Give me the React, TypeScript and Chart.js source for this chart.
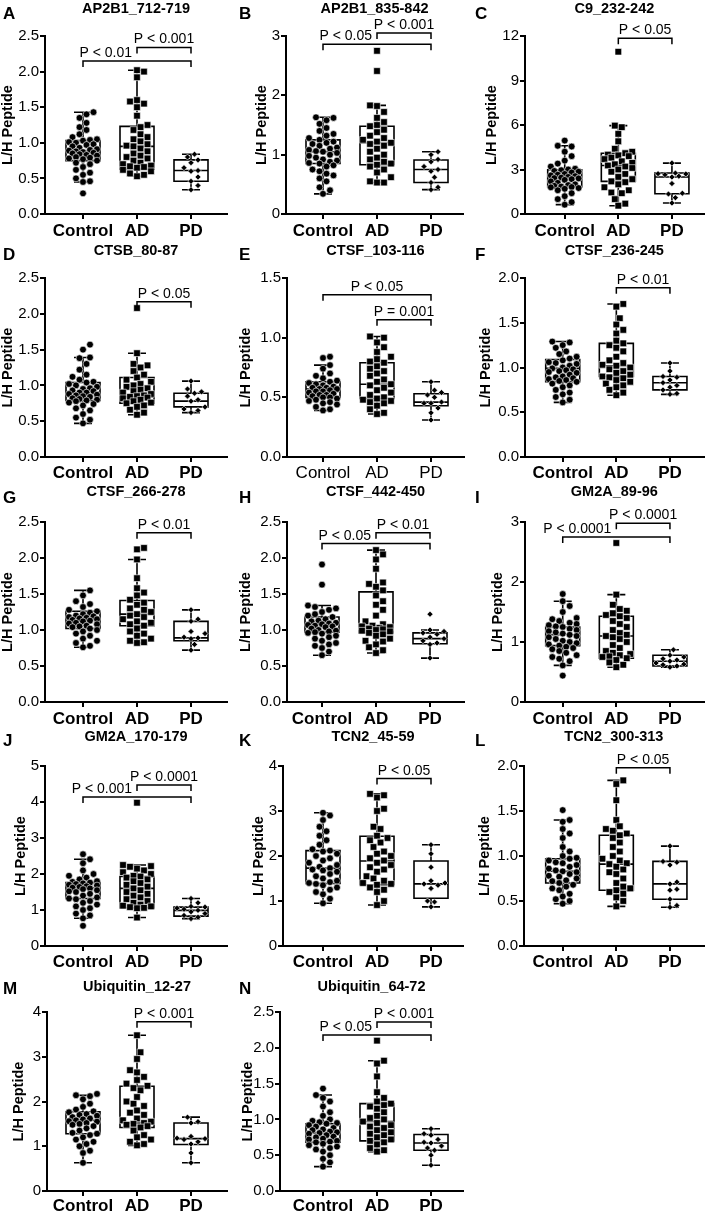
import React, { useEffect, useRef } from 'react';
import { Chart, registerables } from 'chart.js';

Chart.register(...registerables);

const FONT = '"Liberation Sans", Arial, Helvetica, sans-serif';
Chart.defaults.font.family = FONT;

const GROUPS = ['Control', 'AD', 'PD'];

// ---------- data ----------
const A_CONTROL = [1.43, 1.40, 1.35, 1.28, 1.22, 1.18, 1.12, 1.08, 1.05, 1.04, 1.03, 1.01, 1.00, 0.98, 0.97, 0.95, 0.93, 0.91, 0.90, 0.89, 0.88, 0.87, 0.86, 0.85, 0.84, 0.83, 0.82, 0.80, 0.79, 0.78, 0.77, 0.75, 0.72, 0.70, 0.66, 0.62, 0.58, 0.55, 0.50, 0.46, 0.45, 0.29];
const A_AD = [2.02, 2.00, 1.92, 1.60, 1.58, 1.55, 1.50, 1.38, 1.25, 1.22, 1.18, 1.12, 1.08, 1.05, 1.02, 0.98, 0.96, 0.95, 0.92, 0.88, 0.85, 0.82, 0.80, 0.78, 0.75, 0.72, 0.70, 0.68, 0.67, 0.66, 0.65, 0.62, 0.60, 0.57, 0.55, 0.53];
const A_PD = [0.84, 0.80, 0.76, 0.72, 0.65, 0.61, 0.60, 0.52, 0.46, 0.40, 0.34];
const A_BOX = [[0.45, 0.75, 0.88, 1.03, 1.43], [0.53, 0.63, 0.95, 1.23, 2.02], [0.34, 0.46, 0.61, 0.76, 0.84]];
const A_SIG = [[1, 3, 2.15, 'P < 0.01'], [2, 3, 2.34, 'P < 0.001']];

const B_CONTROL = [1.63, 1.62, 1.58, 1.52, 1.45, 1.40, 1.35, 1.32, 1.28, 1.25, 1.22, 1.20, 1.18, 1.15, 1.12, 1.10, 1.08, 1.06, 1.05, 1.03, 1.00, 0.98, 0.95, 0.92, 0.90, 0.88, 0.86, 0.85, 0.82, 0.80, 0.75, 0.72, 0.68, 0.65, 0.60, 0.55, 0.45, 0.40, 0.34];
const B_AD = [2.75, 2.41, 1.83, 1.82, 1.72, 1.62, 1.55, 1.50, 1.48, 1.42, 1.38, 1.32, 1.28, 1.25, 1.22, 1.20, 1.18, 1.15, 1.10, 1.05, 1.00, 0.95, 0.92, 0.88, 0.85, 0.83, 0.80, 0.75, 0.70, 0.62, 0.55, 0.53, 0.53];
const B_PD = [1.05, 1.00, 0.92, 0.88, 0.80, 0.75, 0.72, 0.62, 0.53, 0.45, 0.41];
const B_BOX = [[0.34, 0.85, 1.05, 1.25, 1.63], [0.53, 0.83, 1.20, 1.48, 1.83], [0.41, 0.53, 0.75, 0.91, 1.05]];
const B_SIG = [[1, 3, 2.86, 'P < 0.05'], [2, 3, 3.05, 'P < 0.001']];

const C_CONTROL = [4.95, 4.60, 4.55, 4.20, 3.90, 3.60, 3.40, 3.20, 3.05, 3.00, 2.95, 2.90, 2.85, 2.80, 2.70, 2.65, 2.60, 2.55, 2.50, 2.45, 2.42, 2.40, 2.35, 2.30, 2.20, 2.10, 2.00, 1.95, 1.90, 1.85, 1.82, 1.80, 1.75, 1.70, 1.60, 1.40, 1.20, 1.00, 0.80, 0.63];
const C_AD = [10.94, 5.96, 5.85, 5.40, 4.90, 4.40, 4.20, 4.10, 4.00, 3.95, 3.90, 3.80, 3.70, 3.55, 3.45, 3.35, 3.27, 3.20, 3.10, 3.00, 2.85, 2.70, 2.50, 2.35, 2.20, 2.15, 2.00, 1.80, 1.60, 1.45, 1.40, 1.00, 0.70, 0.56];
const C_PD = [3.43, 2.76, 2.72, 2.70, 2.65, 2.55, 2.49, 2.05, 1.40, 1.35, 1.10, 0.74];
const C_BOX = [[0.63, 1.82, 2.42, 2.98, 4.60], [0.56, 2.20, 3.27, 4.10, 5.96], [0.74, 1.37, 2.49, 2.76, 3.43]];
const C_SIG = [[2, 3, 11.84, 'P < 0.05']];

const D_CONTROL = [1.57, 1.50, 1.39, 1.38, 1.30, 1.22, 1.15, 1.12, 1.08, 1.05, 1.04, 1.02, 1.00, 0.98, 0.96, 0.95, 0.93, 0.92, 0.90, 0.90, 0.88, 0.87, 0.86, 0.85, 0.84, 0.82, 0.81, 0.80, 0.79, 0.78, 0.76, 0.74, 0.72, 0.68, 0.65, 0.60, 0.55, 0.52, 0.47];
const D_AD = [2.08, 1.45, 1.30, 1.28, 1.25, 1.20, 1.15, 1.11, 1.08, 1.05, 1.02, 1.00, 0.98, 0.96, 0.94, 0.92, 0.90, 0.88, 0.86, 0.85, 0.84, 0.83, 0.82, 0.80, 0.78, 0.76, 0.75, 0.72, 0.70, 0.66, 0.62, 0.59];
const D_PD = [1.06, 0.95, 0.91, 0.89, 0.85, 0.80, 0.78, 0.70, 0.67, 0.65, 0.62];
const D_BOX = [[0.47, 0.79, 0.90, 1.04, 1.39], [0.59, 0.75, 0.84, 1.11, 1.45], [0.62, 0.70, 0.78, 0.89, 1.06]];
const D_SIG = [[2, 3, 2.17, 'P < 0.05']];

const E_CONTROL = [0.84, 0.83, 0.77, 0.74, 0.70, 0.68, 0.66, 0.64, 0.63, 0.62, 0.61, 0.60, 0.59, 0.58, 0.58, 0.57, 0.57, 0.56, 0.55, 0.55, 0.54, 0.53, 0.52, 0.52, 0.51, 0.50, 0.50, 0.49, 0.48, 0.47, 0.46, 0.45, 0.44, 0.42, 0.40, 0.39];
const E_AD = [1.01, 1.00, 0.96, 0.92, 0.88, 0.84, 0.82, 0.80, 0.79, 0.76, 0.74, 0.72, 0.70, 0.68, 0.65, 0.63, 0.61, 0.60, 0.58, 0.56, 0.54, 0.52, 0.50, 0.49, 0.48, 0.47, 0.46, 0.45, 0.43, 0.40, 0.37, 0.36];
const E_PD = [0.63, 0.56, 0.54, 0.52, 0.50, 0.46, 0.45, 0.45, 0.41, 0.37, 0.31];
const E_BOX = [[0.39, 0.50, 0.57, 0.63, 0.77], [0.36, 0.49, 0.61, 0.79, 1.01], [0.31, 0.43, 0.46, 0.53, 0.63]];
const E_SIG = [[1, 3, 1.36, 'P < 0.05'], [2, 3, 1.15, 'P = 0.001']];

const F_CONTROL = [1.29, 1.28, 1.25, 1.22, 1.18, 1.15, 1.12, 1.10, 1.08, 1.06, 1.05, 1.04, 1.02, 1.00, 0.99, 0.98, 0.97, 0.96, 0.95, 0.94, 0.92, 0.90, 0.89, 0.88, 0.87, 0.86, 0.85, 0.84, 0.82, 0.80, 0.78, 0.75, 0.72, 0.70, 0.67, 0.64, 0.61];
const F_AD = [1.71, 1.68, 1.55, 1.48, 1.42, 1.38, 1.30, 1.27, 1.25, 1.22, 1.18, 1.12, 1.08, 1.05, 1.03, 1.02, 1.00, 0.98, 0.96, 0.94, 0.92, 0.90, 0.89, 0.88, 0.86, 0.84, 0.82, 0.80, 0.78, 0.75, 0.72, 0.69];
const F_PD = [1.05, 0.96, 0.90, 0.89, 0.86, 0.83, 0.80, 0.78, 0.75, 0.71, 0.70];
const F_BOX = [[0.61, 0.84, 0.99, 1.09, 1.29], [0.69, 0.90, 1.02, 1.27, 1.71], [0.70, 0.75, 0.83, 0.90, 1.05]];
const F_SIG = [[2, 3, 1.89, 'P < 0.01']];

const G_CONTROL = [1.55, 1.48, 1.40, 1.36, 1.32, 1.28, 1.26, 1.24, 1.22, 1.20, 1.19, 1.18, 1.17, 1.16, 1.15, 1.14, 1.13, 1.12, 1.10, 1.09, 1.08, 1.06, 1.05, 1.04, 1.02, 1.00, 0.98, 0.95, 0.92, 0.88, 0.85, 0.82, 0.78, 0.76];
const G_AD = [2.14, 2.12, 1.98, 1.72, 1.58, 1.52, 1.48, 1.42, 1.38, 1.35, 1.30, 1.28, 1.25, 1.22, 1.20, 1.18, 1.15, 1.12, 1.10, 1.08, 1.06, 1.02, 0.98, 0.95, 0.92, 0.88, 0.85, 0.83, 0.82];
const G_PD = [1.28, 1.15, 1.12, 0.98, 0.95, 0.90, 0.89, 0.88, 0.80, 0.72];
const G_BOX = [[0.76, 1.02, 1.15, 1.26, 1.55], [0.82, 1.06, 1.22, 1.41, 1.98], [0.72, 0.85, 0.89, 1.12, 1.28]];
const G_SIG = [[2, 3, 2.35, 'P < 0.01']];

const H_CONTROL = [1.91, 1.63, 1.34, 1.32, 1.30, 1.28, 1.25, 1.22, 1.20, 1.18, 1.15, 1.13, 1.12, 1.10, 1.09, 1.08, 1.07, 1.06, 1.05, 1.04, 1.02, 1.00, 0.99, 0.98, 0.97, 0.96, 0.95, 0.92, 0.90, 0.88, 0.85, 0.82, 0.80, 0.78, 0.75, 0.70, 0.65];
const H_AD = [2.11, 2.05, 1.98, 1.85, 1.66, 1.64, 1.60, 1.55, 1.48, 1.40, 1.35, 1.28, 1.20, 1.12, 1.08, 1.06, 1.05, 1.04, 1.03, 1.02, 1.01, 1.00, 0.99, 0.98, 0.96, 0.94, 0.92, 0.88, 0.85, 0.84, 0.80, 0.76, 0.72, 0.68];
const H_PD = [1.22, 1.00, 0.98, 0.96, 0.94, 0.90, 0.88, 0.85, 0.82, 0.80, 0.61];
const H_BOX = [[0.65, 0.97, 1.08, 1.18, 1.34], [0.68, 0.96, 1.05, 1.53, 2.11], [0.61, 0.81, 0.88, 0.96, 1.00]];
const H_SIG = [[1, 3, 2.20, 'P < 0.05'], [2, 3, 2.35, 'P < 0.01']];

const I_CONTROL = [1.80, 1.68, 1.60, 1.50, 1.40, 1.38, 1.35, 1.32, 1.30, 1.28, 1.26, 1.25, 1.22, 1.20, 1.18, 1.16, 1.14, 1.12, 1.10, 1.08, 1.05, 1.02, 1.00, 0.98, 0.96, 0.94, 0.92, 0.90, 0.88, 0.85, 0.82, 0.78, 0.75, 0.72, 0.68, 0.61, 0.44];
const I_AD = [2.65, 1.79, 1.62, 1.55, 1.52, 1.48, 1.45, 1.43, 1.40, 1.35, 1.30, 1.25, 1.20, 1.15, 1.12, 1.10, 1.08, 1.05, 1.00, 0.95, 0.90, 0.85, 0.82, 0.80, 0.78, 0.76, 0.75, 0.73, 0.70, 0.66, 0.62, 0.58];
const I_PD = [0.87, 0.78, 0.75, 0.72, 0.70, 0.68, 0.65, 0.63, 0.62, 0.60, 0.58];
const I_BOX = [[0.61, 0.94, 1.12, 1.25, 1.68], [0.58, 0.73, 1.10, 1.43, 1.79], [0.58, 0.60, 0.68, 0.78, 0.87]];
const I_SIG = [[1, 3, 2.75, 'P < 0.0001'], [2, 3, 2.98, 'P < 0.0001']];

const J_CONTROL = [2.55, 2.41, 2.30, 2.10, 2.00, 1.95, 1.90, 1.85, 1.80, 1.78, 1.76, 1.74, 1.72, 1.70, 1.68, 1.66, 1.64, 1.62, 1.60, 1.58, 1.55, 1.52, 1.50, 1.45, 1.40, 1.35, 1.32, 1.30, 1.25, 1.20, 1.15, 1.10, 1.05, 1.00, 0.90, 0.85, 0.77, 0.56];
const J_AD = [3.98, 2.25, 2.22, 2.20, 2.15, 2.10, 2.05, 2.00, 1.95, 1.93, 1.90, 1.85, 1.80, 1.75, 1.70, 1.65, 1.60, 1.55, 1.50, 1.45, 1.40, 1.35, 1.30, 1.25, 1.20, 1.15, 1.12, 1.10, 1.08, 1.06, 1.05, 0.79];
const J_PD = [1.32, 1.20, 1.10, 1.08, 1.05, 1.02, 0.99, 0.95, 0.90, 0.85, 0.80, 0.76];
const J_BOX = [[0.77, 1.32, 1.62, 1.76, 2.41], [0.79, 1.06, 1.60, 1.93, 2.25], [0.76, 0.83, 0.99, 1.08, 1.32]];
const J_SIG = [[1, 3, 4.14, 'P < 0.001'], [2, 3, 4.47, 'P < 0.0001']];

const K_CONTROL = [2.96, 2.90, 2.80, 2.65, 2.55, 2.45, 2.35, 2.25, 2.15, 2.12, 2.10, 2.05, 2.00, 1.95, 1.90, 1.85, 1.80, 1.76, 1.73, 1.70, 1.68, 1.65, 1.60, 1.55, 1.50, 1.45, 1.42, 1.40, 1.38, 1.35, 1.30, 1.25, 1.20, 1.15, 1.05, 0.95];
const K_AD = [3.38, 3.35, 3.30, 3.05, 3.00, 2.65, 2.60, 2.45, 2.40, 2.35, 2.30, 2.20, 2.10, 2.05, 2.00, 1.95, 1.90, 1.85, 1.80, 1.75, 1.70, 1.65, 1.55, 1.50, 1.45, 1.40, 1.38, 1.36, 1.30, 1.25, 1.20, 1.00, 0.91];
const K_PD = [2.25, 2.05, 1.75, 1.45, 1.40, 1.38, 1.35, 1.28, 1.00, 0.98, 0.87];
const K_BOX = [[0.95, 1.39, 1.73, 2.12, 2.96], [0.91, 1.36, 1.89, 2.44, 3.38], [0.87, 1.06, 1.38, 1.89, 2.25]];
const K_SIG = [[2, 3, 3.72, 'P < 0.05']];

const L_CONTROL = [1.51, 1.40, 1.38, 1.30, 1.25, 1.20, 1.10, 1.05, 1.00, 0.98, 0.97, 0.95, 0.93, 0.92, 0.90, 0.88, 0.86, 0.84, 0.83, 0.82, 0.80, 0.78, 0.77, 0.75, 0.73, 0.72, 0.70, 0.68, 0.66, 0.64, 0.62, 0.58, 0.55, 0.52, 0.50, 0.47];
const L_AD = [1.84, 1.80, 1.62, 1.40, 1.33, 1.30, 1.28, 1.25, 1.23, 1.20, 1.15, 1.10, 1.05, 1.00, 0.97, 0.95, 0.92, 0.91, 0.88, 0.85, 0.82, 0.80, 0.75, 0.70, 0.66, 0.64, 0.62, 0.60, 0.58, 0.54, 0.50, 0.44];
const L_PD = [1.11, 0.94, 0.93, 0.90, 0.71, 0.69, 0.63, 0.62, 0.52, 0.45, 0.43];
const L_BOX = [[0.47, 0.70, 0.83, 0.97, 1.40], [0.44, 0.62, 0.91, 1.23, 1.84], [0.43, 0.52, 0.69, 0.94, 1.11]];
const L_SIG = [[2, 3, 1.98, 'P < 0.05']];

const M_CONTROL = [2.17, 2.14, 2.12, 2.05, 1.95, 1.88, 1.82, 1.78, 1.76, 1.72, 1.70, 1.68, 1.65, 1.62, 1.60, 1.58, 1.56, 1.55, 1.52, 1.50, 1.48, 1.45, 1.40, 1.35, 1.30, 1.28, 1.25, 1.20, 1.15, 1.10, 1.05, 1.00, 0.90, 0.85, 0.63];
const M_AD = [3.48, 3.10, 2.95, 2.70, 2.65, 2.55, 2.48, 2.40, 2.35, 2.30, 2.25, 2.10, 2.00, 1.95, 1.90, 1.80, 1.75, 1.70, 1.62, 1.58, 1.55, 1.52, 1.50, 1.48, 1.45, 1.42, 1.35, 1.25, 1.20, 1.15, 1.10, 1.05, 1.02];
const M_PD = [1.65, 1.55, 1.52, 1.22, 1.18, 1.17, 1.15, 1.10, 1.05, 0.85, 0.63];
const M_BOX = [[0.63, 1.28, 1.58, 1.77, 2.14], [1.02, 1.42, 1.52, 2.34, 3.48], [0.63, 1.04, 1.17, 1.52, 1.65]];
const M_SIG = [[2, 3, 3.78, 'P < 0.001']];

const N_CONTROL = [1.43, 1.34, 1.30, 1.25, 1.18, 1.10, 1.05, 1.00, 0.98, 0.96, 0.95, 0.94, 0.92, 0.90, 0.88, 0.86, 0.85, 0.83, 0.82, 0.81, 0.80, 0.78, 0.76, 0.75, 0.73, 0.72, 0.70, 0.69, 0.68, 0.66, 0.64, 0.62, 0.60, 0.58, 0.55, 0.50, 0.45, 0.40, 0.34];
const N_AD = [2.10, 1.82, 1.78, 1.60, 1.38, 1.30, 1.25, 1.22, 1.20, 1.18, 1.15, 1.10, 1.05, 1.02, 1.00, 0.97, 0.95, 0.92, 0.90, 0.88, 0.85, 0.82, 0.80, 0.78, 0.75, 0.72, 0.70, 0.68, 0.65, 0.60, 0.57, 0.55];
const N_PD = [0.87, 0.80, 0.78, 0.72, 0.68, 0.67, 0.63, 0.60, 0.57, 0.50, 0.36];
const N_BOX = [[0.34, 0.68, 0.81, 0.94, 1.34], [0.55, 0.70, 0.97, 1.22, 1.82], [0.36, 0.57, 0.67, 0.79, 0.87]];
const N_SIG = [[1, 3, 2.18, 'P < 0.05'], [2, 3, 2.36, 'P < 0.001']];

// y axis: [max, step, decimals]
const A_YAXIS = [2.5, 0.5, 1];
const B_YAXIS = [3, 1, 0];
const C_YAXIS = [12, 3, 0];
const D_YAXIS = [2.5, 0.5, 1];
const E_YAXIS = [1.5, 0.5, 1];
const F_YAXIS = [2.0, 0.5, 1];
const G_YAXIS = [2.5, 0.5, 1];
const H_YAXIS = [2.5, 0.5, 1];
const I_YAXIS = [3, 1, 0];
const J_YAXIS = [5, 1, 0];
const K_YAXIS = [4, 1, 0];
const L_YAXIS = [2.0, 0.5, 1];
const M_YAXIS = [4, 1, 0];
const N_YAXIS = [2.5, 0.5, 1];

// ---------- layout ----------
const PAGE_H = 1213;
const COL_LEFT = [0, 236, 472];
const COL_W = [236, 236, 237];
const ROW_TOP = [0, 242, 484, 728, 970];
const ROW_H = [242, 242, 244, 242, 243];
const PLOT_TOP = [36, 36, 38, 38, 42];
const PLOT_BOTTOM = [214, 215, 218, 218, 221];
const TITLE_BASE = [13, 13, 12, 13, 21];
const LETTER_BASE = [19, 18, 19, 18, 24];
const CAT_PAD = [2, 1, 2, 1, 0];
const CAT_SPACING = 54;

type PanelSpec = {
  letter: string; title: string; col: number; row: number;
  values: number[][]; boxes: number[][]; sig: any[]; yaxis: number[];
  axisX: number; axisEnd: number; ctrlX: number; yTitleX: number; boldCats: boolean;
};

const PANELS: PanelSpec[] = [
  { letter: 'A', title: 'AP2B1_712-719', col: 0, row: 0, values: [A_CONTROL, A_AD, A_PD], boxes: A_BOX, sig: A_SIG, yaxis: A_YAXIS, axisX: 45, axisEnd: 227, ctrlX: 83, yTitleX: 8, boldCats: true },
  { letter: 'B', title: 'AP2B1_835-842', col: 1, row: 0, values: [B_CONTROL, B_AD, B_PD], boxes: B_BOX, sig: B_SIG, yaxis: B_YAXIS, axisX: 50, axisEnd: 227, ctrlX: 87, yTitleX: 26, boldCats: true },
  { letter: 'C', title: 'C9_232-242', col: 2, row: 0, values: [C_CONTROL, C_AD, C_PD], boxes: C_BOX, sig: C_SIG, yaxis: C_YAXIS, axisX: 53, axisEnd: 233, ctrlX: 93, yTitleX: 20, boldCats: true },
  { letter: 'D', title: 'CTSB_80-87', col: 0, row: 1, values: [D_CONTROL, D_AD, D_PD], boxes: D_BOX, sig: D_SIG, yaxis: D_YAXIS, axisX: 45, axisEnd: 227, ctrlX: 83, yTitleX: 8, boldCats: true },
  { letter: 'E', title: 'CTSF_103-116', col: 1, row: 1, values: [E_CONTROL, E_AD, E_PD], boxes: E_BOX, sig: E_SIG, yaxis: E_YAXIS, axisX: 51, axisEnd: 228, ctrlX: 87, yTitleX: 9.5, boldCats: false },
  { letter: 'F', title: 'CTSF_236-245', col: 2, row: 1, values: [F_CONTROL, F_AD, F_PD], boxes: F_BOX, sig: F_SIG, yaxis: F_YAXIS, axisX: 53, axisEnd: 233, ctrlX: 91, yTitleX: 14, boldCats: true },
  { letter: 'G', title: 'CTSF_266-278', col: 0, row: 2, values: [G_CONTROL, G_AD, G_PD], boxes: G_BOX, sig: G_SIG, yaxis: G_YAXIS, axisX: 45, axisEnd: 227, ctrlX: 83, yTitleX: 8, boldCats: true },
  { letter: 'H', title: 'CTSF_442-450', col: 1, row: 2, values: [H_CONTROL, H_AD, H_PD], boxes: H_BOX, sig: H_SIG, yaxis: H_YAXIS, axisX: 51, axisEnd: 228, ctrlX: 86, yTitleX: 9.5, boldCats: true },
  { letter: 'I', title: 'GM2A_89-96', col: 2, row: 2, values: [I_CONTROL, I_AD, I_PD], boxes: I_BOX, sig: I_SIG, yaxis: I_YAXIS, axisX: 53, axisEnd: 233, ctrlX: 91, yTitleX: 26, boldCats: true },
  { letter: 'J', title: 'GM2A_170-179', col: 0, row: 3, values: [J_CONTROL, J_AD, J_PD], boxes: J_BOX, sig: J_SIG, yaxis: J_YAXIS, axisX: 45, axisEnd: 227, ctrlX: 83, yTitleX: 21, boldCats: true },
  { letter: 'K', title: 'TCN2_45-59', col: 1, row: 3, values: [K_CONTROL, K_AD, K_PD], boxes: K_BOX, sig: K_SIG, yaxis: K_YAXIS, axisX: 47, axisEnd: 227, ctrlX: 87, yTitleX: 23, boldCats: true },
  { letter: 'L', title: 'TCN2_300-313', col: 2, row: 3, values: [L_CONTROL, L_AD, L_PD], boxes: L_BOX, sig: L_SIG, yaxis: L_YAXIS, axisX: 52, axisEnd: 233, ctrlX: 91, yTitleX: 13, boldCats: true },
  { letter: 'M', title: 'Ubiquitin_12-27', col: 0, row: 4, values: [M_CONTROL, M_AD, M_PD], boxes: M_BOX, sig: M_SIG, yaxis: M_YAXIS, axisX: 47, axisEnd: 227, ctrlX: 83, yTitleX: 19, boldCats: true },
  { letter: 'N', title: 'Ubiquitin_64-72', col: 1, row: 4, values: [N_CONTROL, N_AD, N_PD], boxes: N_BOX, sig: N_SIG, yaxis: N_YAXIS, axisX: 44, axisEnd: 227, ctrlX: 87, yTitleX: 12, boldCats: true },
];

const POINT_STYLE = ['circle', 'rect', 'rectRot'];
const POINT_RADIUS = [3.4, 4.7, 3.0];
const COLLIDE = [7, 7, 6];
const BOX_HALF = 17;
const CAP_HALF = 9;

// deterministic non-overlapping horizontal spread (beeswarm) in pixels
function swarm(values: number[], pxPerUnit: number, diam: number, maxOff: number, step: number) {
  const order = values.map((_, i) => i).sort((a, b) => values[a] - values[b]);
  const cands = [0];
  for (let k = 1; k * step <= maxOff + 1e-6; k++) cands.push(k * step, -k * step);
  const placed: { x: number; y: number }[] = [];
  const offs = new Array(values.length).fill(0);
  for (const i of order) {
    const y = values[i] * pxPerUnit;
    let best = 0;
    let bestD = -1;
    for (const c of cands) {
      let minD = Infinity;
      for (const p of placed) {
        const d = Math.hypot(p.x - c, p.y - y);
        if (d < minD) minD = d;
      }
      if (minD >= diam) { best = c; bestD = Infinity; break; }
      if (minD > bestD) { bestD = minD; best = c; }
    }
    placed.push({ x: best, y });
    offs[i] = best;
  }
  return offs;
}

function Panel({ spec }: { spec: PanelSpec }) {
  const ref = useRef<HTMLCanvasElement>(null);
  const W = COL_W[spec.col];
  const top = ROW_TOP[spec.row];
  const H = Math.min(ROW_H[spec.row] + 10, PAGE_H - top);
  useEffect(() => {
    const canvas = ref.current;
    if (!canvas) return;
    const plotTop = PLOT_TOP[spec.row];
    const plotBottom = PLOT_BOTTOM[spec.row];
    const xAxisH = H - plotBottom;
    const [yMax, yStep, dec] = spec.yaxis;
    const xMin = 1 - (spec.ctrlX - spec.axisX) / CAT_SPACING;
    const xMax = 1 + (spec.axisEnd - spec.ctrlX) / CAT_SPACING;
    const pxPerUnit = (plotBottom - plotTop) / yMax;

    const datasets = spec.values.map((vals, g) => {
      const offs = swarm(vals, pxPerUnit, COLLIDE[g], 14, 3.5);
      return {
        label: GROUPS[g],
        data: vals.map((v, i) => ({ x: g + 1 + offs[i] / CAT_SPACING, y: v })),
        pointStyle: POINT_STYLE[g],
        pointRadius: POINT_RADIUS[g],
        backgroundColor: '#000',
        borderColor: '#fff',
        borderWidth: 0.6,
        showLine: false,
      };
    });

    const boxPlugin = {
      id: 'boxes' + spec.letter,
      beforeDatasetsDraw(chart: any) {
        const { ctx, scales } = chart;
        const xs = scales.x, ys = scales.y;
        ctx.save();
        ctx.strokeStyle = '#000';
        ctx.lineWidth = 1.6;
        spec.boxes.forEach((b, g) => {
          const cx = xs.getPixelForValue(g + 1);
          const [mn, q1, md, q3, mx] = b.map((v) => ys.getPixelForValue(v));
          ctx.beginPath();
          ctx.rect(cx - BOX_HALF, q3, BOX_HALF * 2, q1 - q3);
          ctx.moveTo(cx - BOX_HALF, md); ctx.lineTo(cx + BOX_HALF, md);
          ctx.moveTo(cx, q3); ctx.lineTo(cx, mx);
          ctx.moveTo(cx, q1); ctx.lineTo(cx, mn);
          ctx.moveTo(cx - CAP_HALF, mx); ctx.lineTo(cx + CAP_HALF, mx);
          ctx.moveTo(cx - CAP_HALF, mn); ctx.lineTo(cx + CAP_HALF, mn);
          ctx.stroke();
        });
        ctx.restore();
      },
    };

    const annotPlugin = {
      id: 'annot' + spec.letter,
      afterDraw(chart: any) {
        const { ctx, scales, chartArea } = chart;
        const xs = scales.x, ys = scales.y;
        ctx.save();
        ctx.fillStyle = '#000';
        ctx.textBaseline = 'alphabetic';
        ctx.font = `bold 17px ${FONT}`;
        ctx.textAlign = 'left';
        ctx.fillText(spec.letter, 3, LETTER_BASE[spec.row]);
        ctx.font = `bold 14.5px ${FONT}`;
        ctx.textAlign = 'center';
        ctx.fillText(spec.title, (chartArea.left + chartArea.right) / 2, TITLE_BASE[spec.row]);
        ctx.strokeStyle = '#000';
        ctx.lineWidth = 1.5;
        ctx.font = `14px ${FONT}`;
        spec.sig.forEach((s: any) => {
          const [from, to, yv, label] = s;
          const x1 = xs.getPixelForValue(from);
          const x2 = xs.getPixelForValue(to);
          const yp = ys.getPixelForValue(yv);
          ctx.beginPath();
          ctx.moveTo(x1, yp + 6); ctx.lineTo(x1, yp); ctx.lineTo(x2, yp); ctx.lineTo(x2, yp + 6);
          ctx.stroke();
          const above = spec.sig.some((o: any) => o !== s && o[0] > from && o[2] > yv);
          if (above) {
            ctx.textAlign = 'right';
            ctx.fillText(label, xs.getPixelForValue(2) - 5, yp - 4);
          } else {
            ctx.textAlign = 'center';
            ctx.fillText(label, (x1 + x2) / 2, yp - 4);
          }
        });
        ctx.restore();
      },
    };

    const gridOpts = { display: true, drawOnChartArea: false, drawTicks: true, tickLength: 5, color: '#000', lineWidth: 2 };
    const borderOpts = { display: true, color: '#000', width: 2 };

    const chart = new Chart(canvas, {
      type: 'scatter',
      data: { datasets } as any,
      options: {
        responsive: false,
        animation: false,
        devicePixelRatio: 1,
        events: [],
        layout: { padding: { left: 0, top: plotTop, right: W - spec.axisEnd, bottom: 0 } },
        plugins: { legend: { display: false }, tooltip: { enabled: false } },
        scales: {
          x: {
            type: 'linear',
            min: xMin,
            max: xMax,
            afterBuildTicks: (ax: any) => { ax.ticks = [1, 2, 3].map((v) => ({ value: v })); },
            afterFit: (s: any) => { s.height = xAxisH; },
            ticks: {
              autoSkip: false, maxRotation: 0, minRotation: 0, padding: CAT_PAD[spec.row], color: '#000',
              font: { size: 17, weight: spec.boldCats ? 'bold' : 'normal' },
              callback: (v: any) => GROUPS[Math.round(Number(v)) - 1],
            },
            grid: gridOpts,
            border: borderOpts,
          },
          y: {
            type: 'linear',
            min: 0,
            max: yMax,
            afterFit: (s: any) => { s.width = spec.axisX; },
            ticks: { stepSize: yStep, padding: 1, color: '#000', font: { size: 15 }, callback: (v: any) => Number(v).toFixed(dec) },
            grid: gridOpts,
            border: borderOpts,
            title: { display: true, text: 'L/H Peptide', color: '#000', font: { size: 14.5, weight: 'bold', lineHeight: 1 }, padding: { top: spec.yTitleX - 7.25, bottom: 0 } },
          },
        },
      } as any,
      plugins: [boxPlugin, annotPlugin],
    });
    return () => chart.destroy();
  }, []);
  return (
    <canvas
      ref={ref}
      width={W}
      height={H}
      style={{ position: 'absolute', left: COL_LEFT[spec.col], top, width: W, height: H }}
    />
  );
}

export default function App() {
  return (
    <div style={{ position: 'absolute', left: 0, top: 0, width: 709, height: PAGE_H, background: '#fff', overflow: 'hidden' }}>
      {PANELS.map((p) => (
        <Panel key={p.letter} spec={p} />
      ))}
    </div>
  );
}
